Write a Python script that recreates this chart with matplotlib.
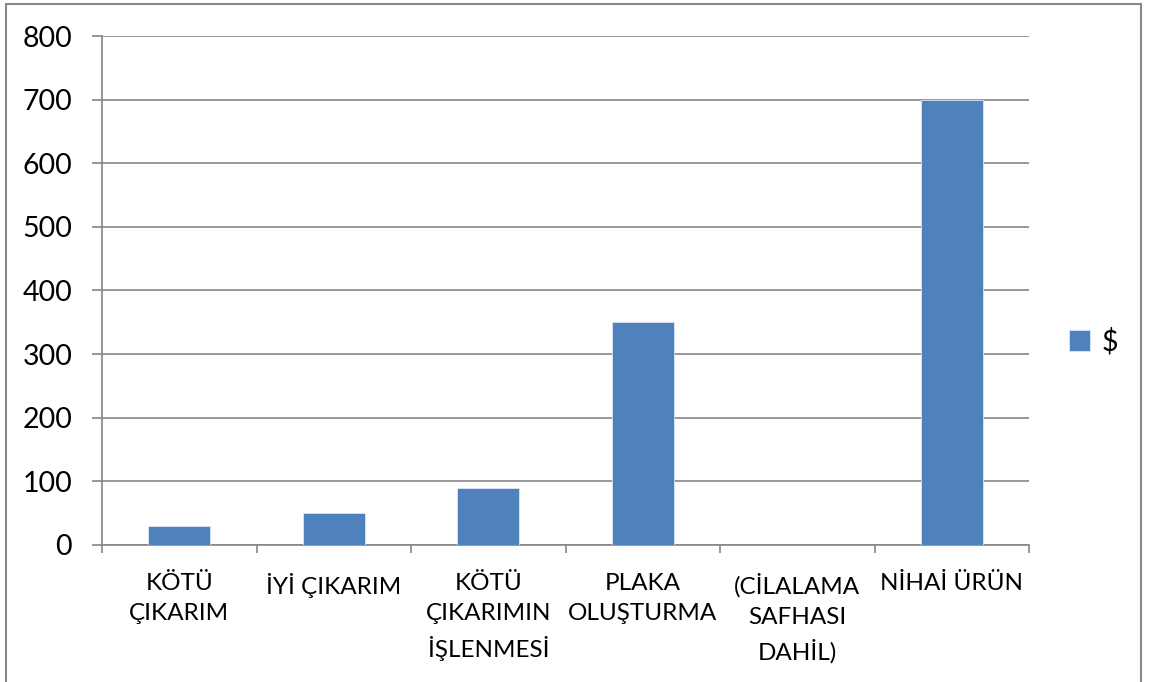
import matplotlib.pyplot as plt
from matplotlib.patches import Rectangle
import numpy as np

plt.rcParams['font.family'] = ['Lato', 'DejaVu Sans']

categories = ['KÖTÜ\nÇIKARIM', 'İYİ ÇIKARIM', 'KÖTÜ\nÇIKARIMIN\nİŞLENMESİ',
              'PLAKA\nOLUŞTURMA', '(CİLALAMA\nSAFHASI\nDAHİL)', 'NİHAİ ÜRÜN']
values = [30, 50, 90, 350, 0, 700]
yticks = [0, 100, 200, 300, 400, 500, 600, 700, 800]

fig = plt.figure(figsize=(11.49, 6.82), dpi=100)
ax = fig.add_axes([0.0888, 0.2009, 0.8068, 0.7463])

x = np.arange(len(categories))
ax.bar(x, values, width=0.4, color='#4F81BD', edgecolor='#DCE6F2', linewidth=0.6,
       label='$', zorder=3)

ax.set_xlim(-0.5, len(categories) - 0.5)
ax.set_ylim(0, 800)
ax.set_yticks(yticks)
ax.set_yticklabels([str(v) for v in yticks], fontsize=20.5)
ax.yaxis.grid(True, color='#868686', linewidth=1.2, zorder=0)

ax.set_xticks(x)
ax.set_xticklabels(categories, fontsize=17.5, linespacing=1.55, va='top')
ax.set_xticks(np.arange(-0.5, len(categories)), minor=True)
ax.tick_params(axis='x', which='major', length=0, pad=20)
ax.tick_params(axis='x', which='minor', length=6, color='#868686', width=1.2)
ax.tick_params(axis='y', length=7.5, color='#868686', width=1.2, pad=14)

for s in ['top', 'right']:
    ax.spines[s].set_visible(False)
for s in ['left', 'bottom']:
    ax.spines[s].set_color('#868686')
    ax.spines[s].set_linewidth(1.2)

ax.legend(loc='center left', bbox_to_anchor=(1.015, 0.40), frameon=False,
          fontsize=20.5, handlelength=0.75, handleheight=0.75, handletextpad=0.4)

fig.patches.append(Rectangle((6 / 1149, -0.05), 1135 / 1149, 1.047 - 0.003,
                             transform=fig.transFigure, fill=False,
                             edgecolor='#888888', linewidth=1.5))

fig.savefig('out.png', dpi=100)
